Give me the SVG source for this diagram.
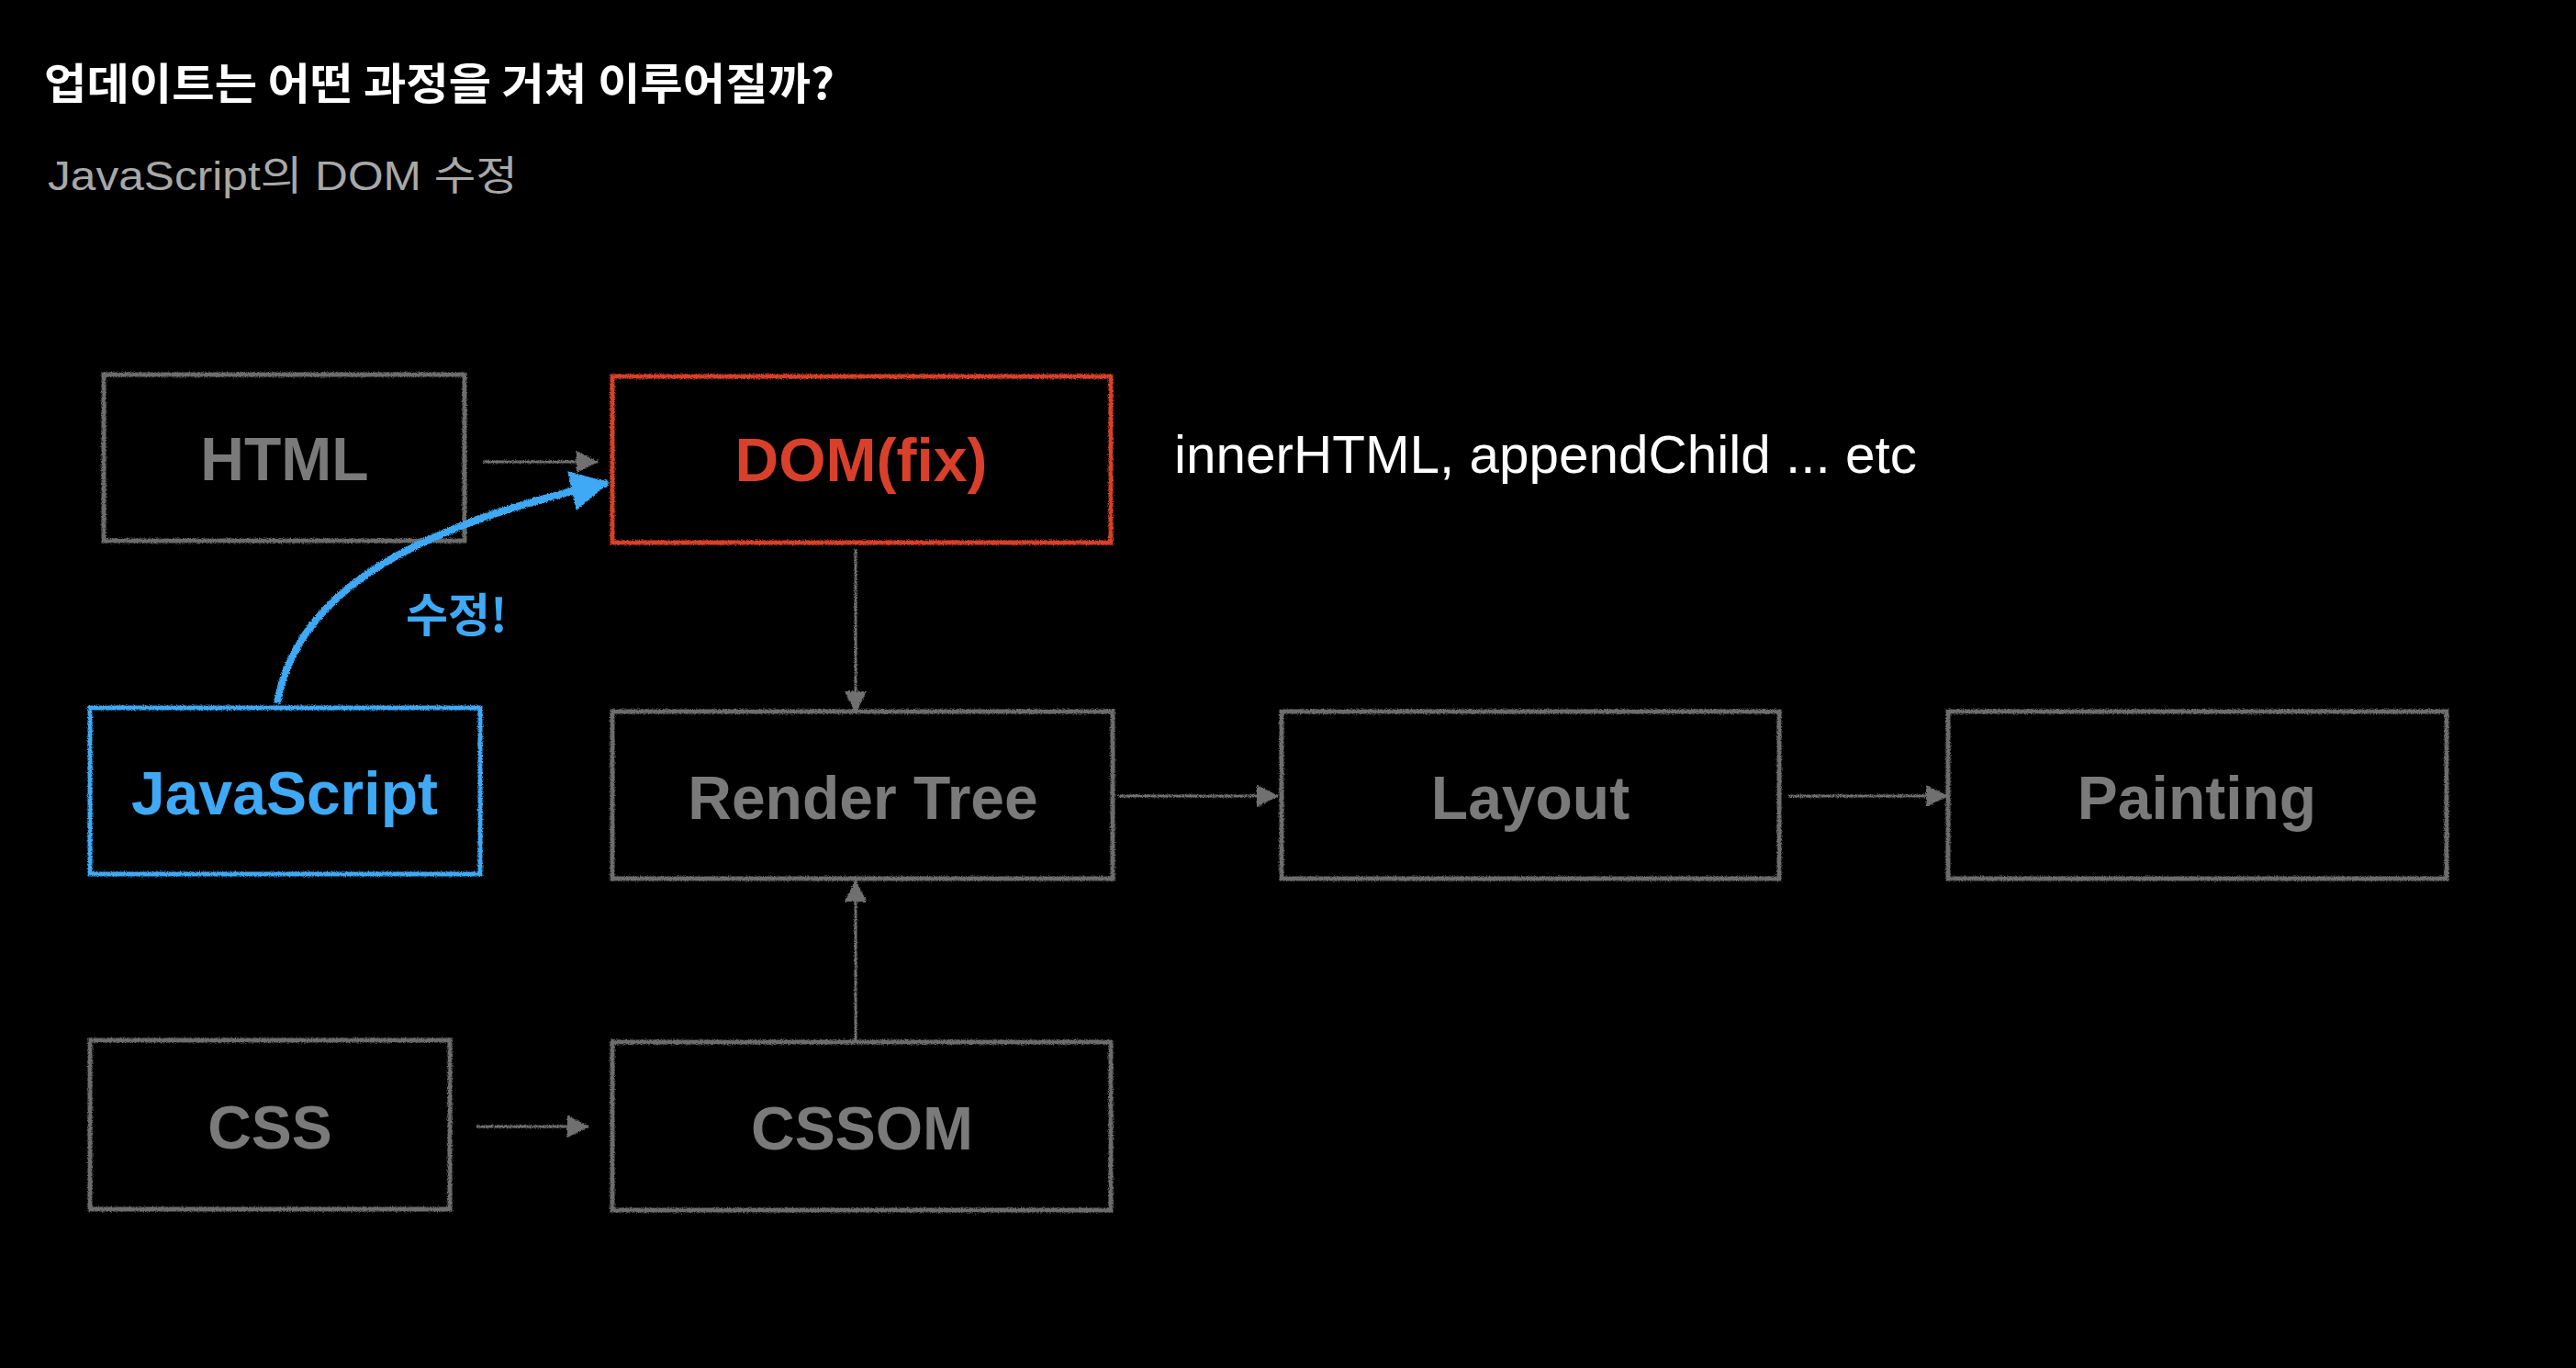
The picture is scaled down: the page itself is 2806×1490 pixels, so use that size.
<svg xmlns="http://www.w3.org/2000/svg" width="2806" height="1490" viewBox="0 0 2806 1490">
<style>
.box{fill:#000;stroke-width:5}
.g{stroke:#6c6c6c}
.red{stroke:#d8402b}
.blue{stroke:#3fa9f5}
.lbl{font-family:"Liberation Sans",Arial,sans-serif;font-weight:700;font-size:66px;text-anchor:middle}
.gt{fill:#7a7a7a}
.conn{stroke:#707070;stroke-width:3;fill:none}
</style>
<defs>
<filter id="chalk" filterUnits="userSpaceOnUse" x="0" y="0" width="2806" height="1490">
<feTurbulence type="fractalNoise" baseFrequency="0.8" numOctaves="2" seed="4" result="n"/>
<feDisplacementMap in="SourceGraphic" in2="n" scale="4" xChannelSelector="R" yChannelSelector="G"/>
</filter>
<marker id="ah" markerUnits="userSpaceOnUse" viewBox="0 0 24 24" markerWidth="24" markerHeight="24" refX="23" refY="12" orient="auto">
<path d="M0,0 L24,12 L0,24 z" fill="#707070"/>
</marker>
<marker id="ahb" markerUnits="userSpaceOnUse" viewBox="0 0 42 44" markerWidth="42" markerHeight="44" refX="40" refY="22" orient="auto">
<path d="M0,0 L42,22 L0,44 z" fill="#3fa9f5"/>
</marker>
</defs>
<rect width="2806" height="1490" fill="#000"/>
<text x="48" y="108" font-family="'Noto Sans CJK KR',sans-serif" font-weight="700" font-size="47" fill="#fff" textLength="861" lengthAdjust="spacingAndGlyphs">업데이트는 어떤 과정을 거쳐 이루어질까?</text>
<text x="52" y="207" font-family="'Liberation Sans','Noto Sans CJK KR',sans-serif" font-size="44" fill="#a8a8a8" textLength="512" lengthAdjust="spacingAndGlyphs">JavaScript의 DOM 수정</text>
<text x="1279" y="515" font-family="'Liberation Sans',Arial,sans-serif" font-size="58" fill="#fff" textLength="809" lengthAdjust="spacingAndGlyphs">innerHTML, appendChild ... etc</text>

<g id="html">
<rect class="box g" x="113" y="408" width="393" height="181" filter="url(#chalk)"/>
<text class="lbl gt" x="310" y="523">HTML</text>
</g>
<g id="dom">
<rect class="box red" x="667" y="410" width="543" height="181" filter="url(#chalk)"/>
<text class="lbl" x="938" y="524" fill="#d8402b">DOM(fix)</text>
</g>
<g id="javascript">
<rect class="box blue" x="98" y="771" width="425" height="181" filter="url(#chalk)"/>
<text class="lbl" x="310" y="887" fill="#3fa9f5">JavaScript</text>
</g>
<g id="render-tree">
<rect class="box g" x="667" y="775" width="545" height="182" filter="url(#chalk)"/>
<text class="lbl gt" x="940" y="892">Render Tree</text>
</g>
<g id="layout">
<rect class="box g" x="1396" y="775" width="542" height="182" filter="url(#chalk)"/>
<text class="lbl gt" x="1667" y="892">Layout</text>
</g>
<g id="painting">
<rect class="box g" x="2122" y="775" width="543" height="182" filter="url(#chalk)"/>
<text class="lbl gt" x="2393" y="892">Painting</text>
</g>
<g id="css">
<rect class="box g" x="98" y="1133" width="392" height="184" filter="url(#chalk)"/>
<text class="lbl gt" x="294" y="1251">CSS</text>
</g>
<g id="cssom">
<rect class="box g" x="667" y="1135" width="543" height="183" filter="url(#chalk)"/>
<text class="lbl gt" x="939" y="1252">CSSOM</text>
</g>

<g id="connectors" filter="url(#chalk)">
<line class="conn" x1="526" y1="503" x2="651" y2="503" marker-end="url(#ah)"/>
<line class="conn" x1="932" y1="598" x2="932" y2="776" marker-end="url(#ah)"/>
<line class="conn" x1="932" y1="1134" x2="932" y2="959" marker-end="url(#ah)"/>
<line class="conn" x1="1218" y1="867" x2="1392" y2="867" marker-end="url(#ah)"/>
<line class="conn" x1="1948" y1="867" x2="2121" y2="867" marker-end="url(#ah)"/>
<line class="conn" x1="519" y1="1227" x2="641" y2="1227" marker-end="url(#ah)"/>
<path d="M302,766 C323,643 455,572 662,526" fill="none" stroke="#3fa9f5" stroke-width="8" marker-end="url(#ahb)"/>
</g>
<text x="442" y="688" font-family="'Noto Sans CJK KR',sans-serif" font-weight="700" font-size="50" fill="#3fa9f5">수정!</text>
</svg>
